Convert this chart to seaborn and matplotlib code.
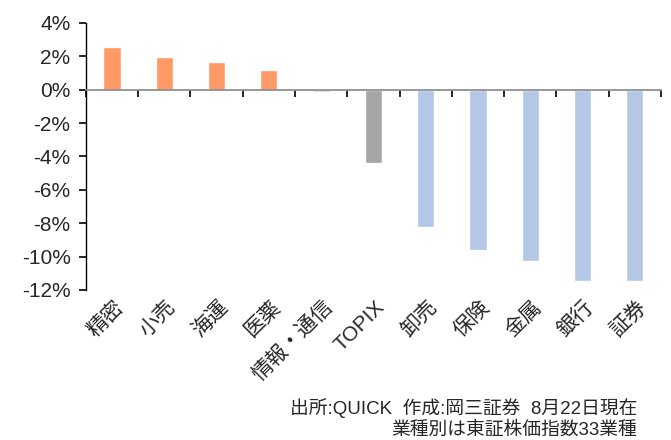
import matplotlib
matplotlib.use("Agg")
import matplotlib.pyplot as plt
import matplotlib.transforms as mtransforms
import seaborn as sns

# 業種別騰落率 (%)
categories = ["精密", "小売", "海運", "医薬", "情報・通信", "TOPIX",
              "卸売", "保険", "金属", "銀行", "証券"]
values = [2.55, 1.93, 1.63, 1.15, -0.16, -4.42, -8.24, -9.59, -10.27, -11.46, -11.46]
bar_colors = ["#FF9966"] * 4 + ["#B4C7E7", "#A5A5A5"] + ["#B4C7E7"] * 5
y_ticks = [4, 2, 0, -2, -4, -6, -8, -10, -12]
note_lines = ["出所:QUICK  作成:岡三証券  8月22日現在", "業種別は東証株価指数33業種"]

sns.set_style("white")
plt.rcParams['font.family'] = ['Liberation Sans', 'Noto Sans CJK JP', 'DejaVu Sans']

fig = plt.figure(figsize=(6.71, 4.4), dpi=100)
ax = fig.add_axes([0.128, 0.341, 0.857, 0.607])

sns.barplot(x=categories, y=values, hue=categories, palette=bar_colors,
            legend=False, width=0.33, saturation=1, ax=ax)

ax.set_ylim(-12, 4)
ax.set_xlim(-0.5, len(categories) - 0.5)
ax.set_yticks(y_ticks)
ax.set_yticklabels([f"{t}%" for t in y_ticks], fontsize=15)

# 横軸は0%の位置、目盛りはカテゴリの境目
for s in ["top", "right"]:
    ax.spines[s].set_visible(False)
ax.spines["bottom"].set_position(("data", 0))
ax.spines["bottom"].set_color("#909090")
ax.spines["bottom"].set_linewidth(1.3)
ax.spines["left"].set_color("black")
ax.spines["left"].set_linewidth(1.0)
ax.set_xticks([i - 0.5 for i in range(len(categories) + 1)])
ax.set_xticklabels([])
ax.tick_params(axis="x", bottom=True, direction="out", length=5, width=1.2, color="black")
ax.tick_params(axis="y", left=True, direction="out", length=5, width=1.2, color="black", pad=6)
ax.set_xlabel("")
ax.set_ylabel("")

# カテゴリ名はグラフ下端に表示
trans = mtransforms.blended_transform_factory(ax.transData, ax.transAxes)
offset = mtransforms.ScaledTranslation(6 / 72, -10 / 72, fig.dpi_scale_trans)
for i, name in enumerate(categories):
    ax.text(i, 0, name, transform=trans + offset, rotation=45,
            rotation_mode="anchor", ha="right", va="center", fontsize=15)

fig.text(0.95, 0.073, note_lines[0], ha="right", va="center", fontsize=13.5)
fig.text(0.95, 0.022, note_lines[1], ha="right", va="center", fontsize=13.5)

fig.savefig("out.png", dpi=100)
